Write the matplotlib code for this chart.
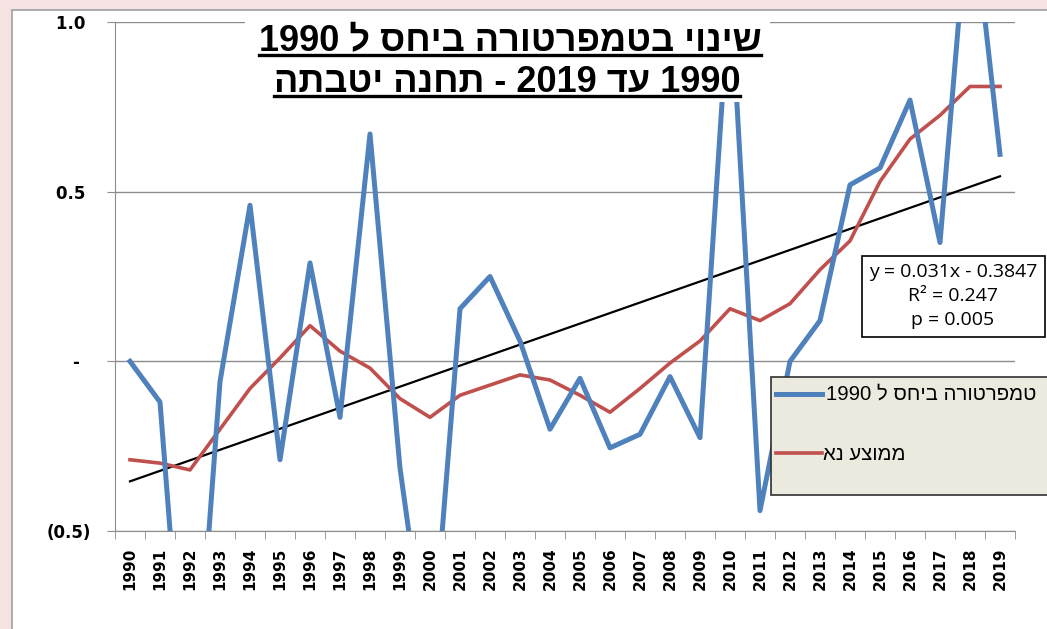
import re
import numpy as np
import matplotlib
matplotlib.use("Agg")
import matplotlib.pyplot as plt
from matplotlib.patches import Rectangle
from matplotlib.lines import Line2D

# ---- data ----
years = list(range(1990, 2020))
temp_diff = [0.00, -0.12, -1.25, -0.06, 0.46, -0.29, 0.29, -0.165, 0.67, -0.315,
             -0.95, 0.155, 0.25, 0.06, -0.20, -0.05, -0.255, -0.215, -0.045, -0.225,
             1.12, -0.44, 0.00, 0.12, 0.52, 0.57, 0.77, 0.35, 1.40, 0.61]
moving_avg = [-0.29, -0.30, -0.32, -0.20, -0.08, 0.01, 0.105, 0.03, -0.02, -0.11,
              -0.165, -0.10, -0.07, -0.04, -0.055, -0.10, -0.15, -0.08, -0.005, 0.06,
              0.155, 0.12, 0.17, 0.27, 0.355, 0.53, 0.655, 0.725, 0.81, 0.81]
trend_slope = 0.031
trend_intercept = -0.3847
y_ticks = [-0.5, 0.0, 0.5, 1.0]
y_tick_labels = ["(0.5)", "-  ", "0.5 ", "1.0 "]

title_line1 = "שינוי בטמפרטורה ביחס ל 1990"
title_line2 = "1990 עד 2019 - תחנה יטבתה"
legend_temp = "טמפרטורה ביחס ל 1990"
legend_avg = "ממוצע נא"
stats_text = ["y = 0.031x - 0.3847", "R² = 0.247", "p = 0.005"]

BLUE = "#4F81BD"
RED = "#C0504D"
GRID = "#8c8c8c"
PINK = "#F5E3E3"

W, H = 1047, 629


def rtl(s):
    # matplotlib has no bidi: reverse for display, keep numbers left-to-right
    r = s[::-1]
    return re.sub(r"\d+", lambda m: m.group(0)[::-1], r)


def fx(x):
    return x / W


def fy(y):
    return 1 - y / H


fig = plt.figure(figsize=(W / 100, H / 100), dpi=100, facecolor=PINK)

# white chart area with grey border (behind the axes)
fig.patches.append(Rectangle((fx(12), -0.1), 1.2, fy(10) + 0.1, transform=fig.transFigure,
                             facecolor="white", edgecolor="#a0a0a0", lw=1.2, zorder=-1))

ax = fig.add_axes([fx(115), fy(531), fx(1015) - fx(115), fy(22) - fy(531)])
ax.set_facecolor("none")

x = np.arange(len(years))
trend = trend_slope * (x + 1) + trend_intercept

ax.plot(x, trend, color="black", lw=1.6, zorder=3)
ax.plot(x, moving_avg, color=RED, lw=2.6, zorder=4, solid_joinstyle="round")
ax.plot(x, temp_diff, color=BLUE, lw=3.6, zorder=5, solid_joinstyle="round")

ax.set_xlim(-0.5, len(years) - 0.5)
ax.set_ylim(-0.5, 1.0)

ax.set_yticks(y_ticks)
ax.set_yticklabels(y_tick_labels, fontsize=12, fontweight="bold", family="DejaVu Sans")
ax.tick_params(axis="y", length=6, color=GRID, pad=11)

ax.set_xticks(x)
ax.set_xticklabels([str(y) for y in years], rotation=90, fontsize=11,
                   fontweight="bold", family="DejaVu Sans", va="top")
ax.set_xticks(np.arange(len(years) + 1) - 0.5, minor=True)
ax.tick_params(axis="x", which="major", length=0, pad=12)
ax.tick_params(axis="x", which="minor", length=6, color=GRID)

ax.yaxis.grid(True, color=GRID, lw=1)
ax.set_axisbelow(True)
for side in ["top", "right"]:
    ax.spines[side].set_visible(False)
ax.spines["left"].set_color(GRID)
ax.spines["bottom"].set_color(GRID)

# ---- title with white background and underline ----
fig.patches.append(Rectangle((fx(245), fy(102)), fx(770) - fx(245), fy(12) - fy(102),
                             transform=fig.transFigure, facecolor="white",
                             edgecolor="none", zorder=2))
t1 = fig.text(fx(510), fy(51), rtl(title_line1), ha="center", va="baseline",
              fontsize=26, fontweight="bold", family="Liberation Sans", zorder=4)
t2 = fig.text(fx(507), fy(92), rtl(title_line2), ha="center", va="baseline",
              fontsize=26, fontweight="bold", family="Liberation Sans", zorder=4)
fig.canvas.draw()
r = fig.canvas.get_renderer()
for t, uy in [(t1, 55), (t2, 96)]:
    bb = t.get_window_extent(r)
    fig.lines.append(Line2D([bb.x0 / W, bb.x1 / W], [fy(uy), fy(uy)],
                            transform=fig.transFigure, color="black", lw=2.4, zorder=4))

# ---- regression stats box ----
fig.patches.append(Rectangle((fx(862), fy(337)), fx(1045) - fx(862), fy(256) - fy(337),
                             transform=fig.transFigure, facecolor="white",
                             edgecolor="black", lw=1.2, zorder=2))
for i, s in enumerate(stats_text):
    fig.text(fx(953), fy(272 + 24 * i), s, ha="center", va="center",
             fontsize=14, family="Open Sans", zorder=4)

# ---- legend ----
fig.patches.append(Rectangle((fx(771), fy(495)), 0.5, fy(377) - fy(495),
                             transform=fig.transFigure, facecolor="#ECE9DF",
                             edgecolor="#303030", lw=1.2, zorder=2))
fig.lines.append(Line2D([fx(776), fx(822)], [fy(394), fy(394)], transform=fig.transFigure,
                        color=BLUE, lw=3.6, zorder=4))
fig.lines.append(Line2D([fx(776), fx(822)], [fy(453), fy(453)], transform=fig.transFigure,
                        color=RED, lw=2.6, zorder=4))
fig.text(fx(826), fy(394), rtl(legend_temp), ha="left", va="center",
         fontsize=14.7, family="Liberation Sans", zorder=4)
fig.text(fx(823), fy(454), rtl(legend_avg), ha="left", va="center",
         fontsize=14.7, family="Liberation Sans", zorder=4)

fig.savefig("out.png", dpi=100, facecolor=PINK)
